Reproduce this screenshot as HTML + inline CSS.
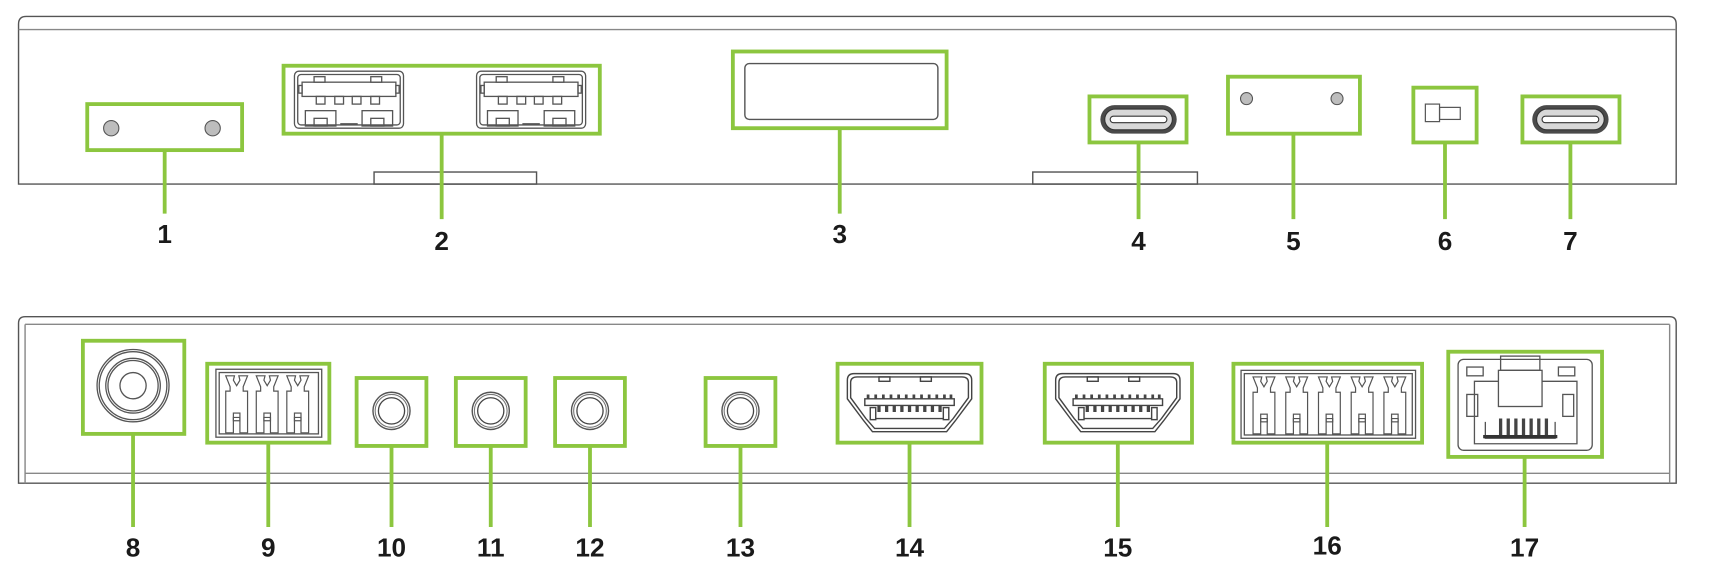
<!DOCTYPE html>
<html><head><meta charset="utf-8"><style>
html,body{margin:0;padding:0;background:#fff;}
svg{display:block;}
text{font-family:"Liberation Sans",sans-serif;font-weight:bold;font-size:24px;fill:#1a1a1a;text-anchor:middle;}
</style></head><body>
<svg width="1710" height="584" viewBox="0 0 1568 533" preserveAspectRatio="none" xmlns="http://www.w3.org/2000/svg">
<defs>
  <g id="usbc">
    <rect x="-35" y="-13" width="70" height="26" rx="13" fill="#4a4a4a"/>
    <rect x="-31" y="-9.5" width="62" height="19" rx="9.5" fill="#d8d8d8" stroke="#333" stroke-width="1"/>
    <rect x="-26" y="-3" width="52" height="6" rx="3" fill="#fff" stroke="#333" stroke-width="1"/>
  </g>
  <g id="usba" fill="none" stroke="#555" stroke-width="1.2">
    <rect x="0" y="0" width="100" height="52" rx="4"/>
    <rect x="3" y="3" width="94" height="46" rx="3"/>
    <rect x="7" y="10" width="86" height="13"/>
    <rect x="4" y="13" width="3" height="7"/><rect x="93" y="13" width="3" height="7"/>
    <rect x="18" y="5" width="10" height="5"/><rect x="70" y="5" width="10" height="5"/>
    <rect x="20" y="23" width="8" height="7"/><rect x="37" y="23" width="8" height="7"/><rect x="53" y="23" width="8" height="7"/><rect x="70" y="23" width="8" height="7"/>
    <rect x="10" y="36" width="28" height="14"/><rect x="62" y="36" width="28" height="14"/>
    <rect x="18" y="43" width="12" height="7"/><rect x="70" y="43" width="12" height="7"/>
    <line x1="42" y1="48" x2="58" y2="48"/>
  </g>
  <g id="jack">
    <circle r="17" fill="#fff" stroke="#555" stroke-width="1.3"/>
    <circle r="15" fill="none" stroke="#777" stroke-width="1"/>
    <circle r="12" fill="none" stroke="#444" stroke-width="1.2"/>
  </g>
  <g id="slot" fill="none" stroke="#555" stroke-width="1.1">
    <path d="M2 0 H10 L9 4 L12 9 L15 4 L14 0 H22 L18 10 V14 H22 V52 H15 V38 H9 V52 H2 V14 H6 V10 Z"/>
    <rect x="9" y="34" width="6" height="7"/>
  </g>
  <g id="hdmi" fill="none" stroke="#444" stroke-width="1.3">
    <path d="M-51 -27 H51 Q57 -27 57 -21 V-4 L42 16 L34 26 H-34 L-42 16 L-57 -4 V-21 Q-57 -27 -51 -27 Z"/>
    <path d="M-48 -24 H48 Q54 -24 54 -19 V-5 L40 14 L32 23 H-32 L-40 14 L-54 -5 V-19 Q-54 -24 -48 -24 Z"/>
    <rect x="-28" y="-24" width="10" height="4"/><rect x="10" y="-24" width="10" height="4"/>
    <path d="M-41 -4 H41 V2 H-41 Z"/>
    <path d="M-38 -4 V-8 M-31 -4 V-8 M-24 -4 V-8 M-17 -4 V-8 M-10 -4 V-8 M-3 -4 V-8 M4 -4 V-8 M11 -4 V-8 M18 -4 V-8 M25 -4 V-8 M32 -4 V-8 M38 -4 V-8" stroke-width="2.5"/>
    <path d="M-28 2 V8 M-21 2 V8 M-14 2 V8 M-7 2 V8 M0 2 V8 M7 2 V8 M14 2 V8 M21 2 V8 M28 2 V8" stroke-width="3"/>
    <rect x="-36" y="4" width="5" height="11"/><rect x="31" y="4" width="5" height="11"/>
    <line x1="-31" y1="14" x2="31" y2="14"/>
  </g>
</defs>

<g fill="none" stroke="#555" stroke-width="1.3">
  <path d="M17 168 V22 Q17 15 24 15 H1530 Q1537 15 1537 22 V168 Z" fill="#fff"/>
  <line x1="17" y1="27" x2="1537" y2="27" stroke="#888"/>
  <rect x="343" y="157" width="149" height="11"/>
  <rect x="947" y="157" width="151" height="11"/>
  <path d="M17 441 V295 Q17 289 23 289 H1531 Q1537 289 1537 295 V441 Z" fill="#fff"/>
  <line x1="23" y1="296" x2="1531" y2="296" stroke="#888"/>
  <line x1="23" y1="432" x2="1531" y2="432" stroke="#888"/>
  <line x1="23" y1="296" x2="23" y2="441" stroke="#888"/>
  <line x1="1531" y1="296" x2="1531" y2="441" stroke="#888"/>
</g>

<circle cx="102" cy="117" r="7" fill="#bdbdbd" stroke="#555" stroke-width="1"/>
<circle cx="195" cy="117" r="7" fill="#bdbdbd" stroke="#555" stroke-width="1"/>
<use href="#usba" x="270" y="65"/>
<use href="#usba" x="437" y="65"/>
<rect x="683" y="58" width="177" height="51" rx="4" fill="none" stroke="#555" stroke-width="1.3"/>
<use href="#usbc" x="1044" y="109"/>
<circle cx="1143" cy="90" r="5.5" fill="#bdbdbd" stroke="#555" stroke-width="1"/>
<circle cx="1226" cy="90" r="5.5" fill="#bdbdbd" stroke="#555" stroke-width="1"/>
<rect x="1307" y="95" width="13" height="16" fill="none" stroke="#555" stroke-width="1.1"/>
<rect x="1320" y="98" width="19" height="11" fill="none" stroke="#555" stroke-width="1.1"/>
<use href="#usbc" x="1440" y="109"/>

<g fill="none" stroke="#555" stroke-width="1.2">
  <circle cx="122" cy="352" r="33"/>
  <circle cx="122" cy="352" r="31"/>
  <circle cx="122" cy="352" r="25"/>
  <circle cx="122" cy="352" r="23"/>
  <circle cx="122" cy="352" r="12"/>
  <rect x="198" y="337" width="97" height="62"/>
  <rect x="201" y="340" width="91" height="56"/>
  <rect x="1138" y="338" width="160" height="62"/>
  <rect x="1141" y="341" width="154" height="56"/>
  <rect x="1337" y="328" width="123" height="83" rx="5"/>
  <rect x="1376" y="325" width="36" height="13"/>
  <rect x="1374" y="338" width="40" height="33"/>
  <rect x="1345" y="335" width="15" height="8"/><rect x="1429" y="335" width="15" height="8"/>
  <path d="M1374 348 H1352 V405 H1446 V348 H1414"/>
  <rect x="1345" y="360" width="10" height="20"/><rect x="1433" y="360" width="10" height="20"/>
  <path d="M1362 385 V400 H1426 V385"/>
</g>
<g transform="translate(205,343)"><use href="#slot" x="0"/><use href="#slot" x="28"/><use href="#slot" x="56"/></g>
<g transform="translate(1147,344)"><use href="#slot" x="0"/><use href="#slot" x="30"/><use href="#slot" x="60"/><use href="#slot" x="90"/><use href="#slot" x="120"/></g>
<path d="M1376 382 V398 M1383 382 V398 M1390 382 V398 M1397 382 V398 M1404 382 V398 M1411 382 V398 M1418 382 V398" stroke="#444" stroke-width="3"/>
<rect x="1360" y="397" width="68" height="3" fill="#333"/>
<use href="#jack" x="359" y="375"/>
<use href="#jack" x="450" y="375"/>
<use href="#jack" x="541" y="375"/>
<use href="#jack" x="679" y="375"/>
<use href="#hdmi" x="834" y="368"/>
<use href="#hdmi" x="1025" y="368"/>

<g fill="none" stroke="#8cc63f" stroke-width="3.5">
  <rect x="80" y="95" width="142" height="42"/>
  <rect x="260" y="60" width="290" height="62"/>
  <rect x="672" y="47" width="196" height="70"/>
  <rect x="999" y="88" width="89" height="42"/>
  <rect x="1126" y="70" width="121" height="52"/>
  <rect x="1296" y="80" width="58" height="50"/>
  <rect x="1396" y="88" width="89" height="42"/>
  <line x1="151" y1="137" x2="151" y2="195"/>
  <line x1="405" y1="122" x2="405" y2="200"/>
  <line x1="770" y1="117" x2="770" y2="195"/>
  <line x1="1044" y1="130" x2="1044" y2="200"/>
  <line x1="1186" y1="122" x2="1186" y2="200"/>
  <line x1="1325" y1="130" x2="1325" y2="200"/>
  <line x1="1440" y1="130" x2="1440" y2="200"/>
  <rect x="76" y="311" width="93" height="85"/>
  <rect x="190" y="332" width="112" height="72"/>
  <rect x="327" y="345" width="64" height="62"/>
  <rect x="418" y="345" width="64" height="62"/>
  <rect x="509" y="345" width="64" height="62"/>
  <rect x="647" y="345" width="64" height="62"/>
  <rect x="768" y="332" width="132" height="72"/>
  <rect x="958" y="332" width="135" height="72"/>
  <rect x="1131" y="332" width="173" height="72"/>
  <rect x="1328" y="321" width="141" height="96"/>
  <line x1="122" y1="396" x2="122" y2="481"/>
  <line x1="246" y1="404" x2="246" y2="481"/>
  <line x1="359" y1="407" x2="359" y2="481"/>
  <line x1="450" y1="407" x2="450" y2="481"/>
  <line x1="541" y1="407" x2="541" y2="481"/>
  <line x1="679" y1="407" x2="679" y2="481"/>
  <line x1="834" y1="404" x2="834" y2="481"/>
  <line x1="1025" y1="404" x2="1025" y2="481"/>
  <line x1="1217" y1="404" x2="1217" y2="481"/>
  <line x1="1398" y1="417" x2="1398" y2="481"/>
</g>

<text x="151" y="222">1</text>
<text x="405" y="228">2</text>
<text x="770" y="222">3</text>
<text x="1044" y="228">4</text>
<text x="1186" y="228">5</text>
<text x="1325" y="228">6</text>
<text x="1440" y="228">7</text>
<text x="122" y="508">8</text>
<text x="246" y="508">9</text>
<text x="359" y="508">10</text>
<text x="450" y="508">11</text>
<text x="541" y="508">12</text>
<text x="679" y="508">13</text>
<text x="834" y="508">14</text>
<text x="1025" y="508">15</text>
<text x="1217" y="506">16</text>
<text x="1398" y="508">17</text>
</svg>
</body></html>
